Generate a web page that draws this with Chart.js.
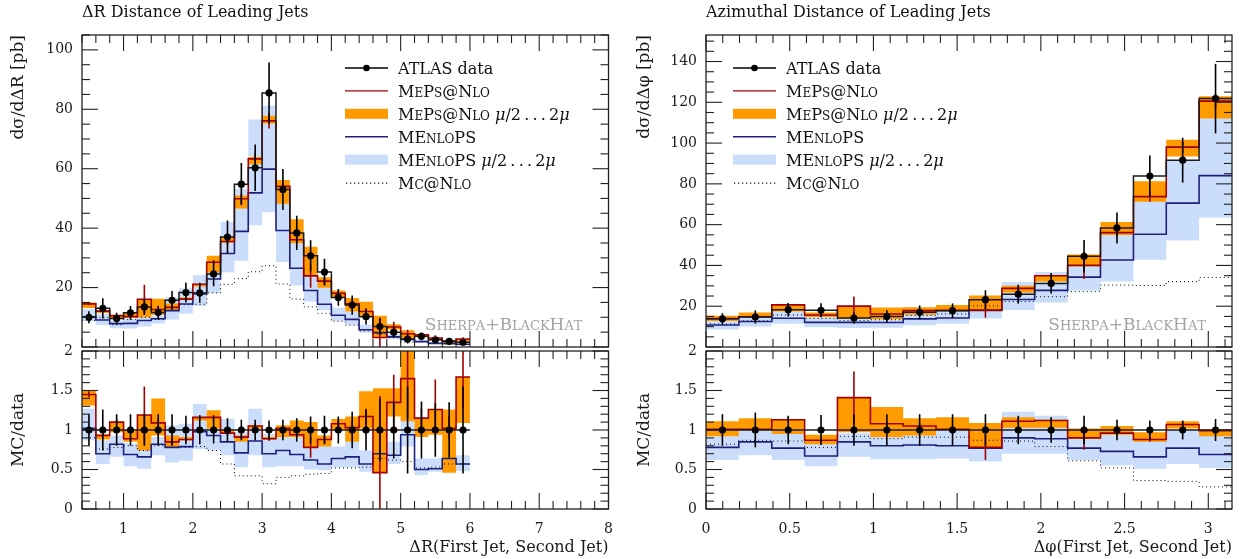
<!DOCTYPE html>
<html>
<head>
<meta charset="utf-8">
<script src="https://cdn.jsdelivr.net/npm/chart.js@4.4.1/dist/chart.umd.min.js"></script>
<style>
  body { margin: 0; background: #fff; width: 1244px; height: 559px; position: relative; overflow: hidden; }
  canvas { position: absolute; }
  #lmain { left: 0px; top: 0px; }
  #lratio { left: 0px; top: 343px; }
  #rmain { left: 622px; top: 0px; }
  #rratio { left: 622px; top: 343px; }
</style>
</head>
<body>
<canvas id="lmain" width="620" height="351"></canvas>
<canvas id="lratio" width="620" height="216"></canvas>
<canvas id="rmain" width="622" height="351"></canvas>
<canvas id="rratio" width="622" height="216"></canvas>
<script>
// ---- Delta R panel (bins of 0.2 from 0.4 to 6.0) ----
const edgesL = [0.4, 0.6, 0.8, 1.0, 1.2, 1.4, 1.6, 1.8, 2.0, 2.2, 2.4, 2.6, 2.8, 3.0, 3.2,
                3.4, 3.6, 3.8, 4.0, 4.2, 4.4, 4.6, 4.8, 5.0, 5.2, 5.4, 5.6, 5.8, 6.0];
const dataL = [10.0, 13.0, 9.6, 11.5, 13.5, 11.6, 15.7, 18.3, 18.2, 24.6, 37.0, 54.8, 60.3, 85.5,
               53.0, 38.4, 30.7, 25.2, 16.7, 14.1, 10.2, 6.9, 5.0, 2.7, 3.6, 2.4, 1.9, 1.6];
// relative data uncertainty (as seen in the ratio panel)
const dataErrL = [0.20, 0.26, 0.20, 0.20, 0.20, 0.20, 0.20, 0.18, 0.18, 0.17, 0.15, 0.13, 0.13, 0.12,
                  0.13, 0.15, 0.17, 0.18, 0.17, 0.23, 0.26, 0.40, 0.36, 0.55, 0.36, 0.34, 0.35, 0.55];
// MC / data ratios
const mepsL = [1.45, 0.93, 1.10, 0.89, 1.19, 1.09, 0.85, 0.88, 1.16, 1.16, 0.96, 0.91, 1.05, 0.89,
               1.02, 0.94, 0.78, 0.88, 1.08, 1.03, 1.17, 0.46, 1.35, 1.65, 1.15, 1.26, 1.02, 1.67];
const mepsErrL = [0.04, 0.03, 0.03, 0.03, 0.36, 0.05, 0.04, 0.03, 0.03, 0.03, 0.03, 0.03, 0.03, 0.03,
                  0.03, 0.03, 0.13, 0.05, 0.05, 0.08, 0.10, 0.97, 0.35, 0.50, 0.12, 0.38, 0.15, 0.40];
const mepsLoL = [1.31, 0.88, 0.97, 0.85, 0.74, 0.93, 0.78, 0.87, 1.12, 1.02, 0.95, 0.85, 1.02, 0.88,
                 0.91, 0.91, 0.78, 0.79, 1.01, 0.85, 1.02, 0.46, 1.17, 1.11, 0.91, 0.94, 0.46, 1.09];
const mepsHiL = [1.50, 0.95, 1.10, 1.00, 1.19, 1.40, 0.93, 0.91, 1.16, 1.25, 1.00, 0.93, 1.06, 0.91,
                 1.06, 1.12, 1.10, 0.93, 1.14, 1.17, 1.49, 1.53, 1.53, 2.10, 1.15, 1.26, 1.26, 1.67];
const menL = [1.02, 0.70, 0.82, 0.69, 0.66, 0.82, 0.78, 0.79, 0.98, 0.93, 0.85, 0.71, 0.86, 0.70,
              0.74, 0.69, 0.62, 0.57, 0.64, 0.66, 0.57, 0.70, 0.68, 0.94, 0.50, 0.51, 0.64, 0.57];
const menLoL = [0.87, 0.57, 0.66, 0.54, 0.51, 0.68, 0.59, 0.61, 0.76, 0.74, 0.68, 0.53, 0.68, 0.53,
                0.54, 0.54, 0.50, 0.49, 0.53, 0.53, 0.47, 0.57, 0.57, 0.79, 0.43, 0.47, 0.49, 0.48];
const menHiL = [1.27, 0.87, 0.93, 0.83, 0.78, 0.91, 1.06, 1.08, 1.33, 1.14, 1.14, 0.97, 1.27, 0.95,
                0.97, 0.93, 0.83, 0.87, 0.79, 0.85, 0.74, 0.85, 0.85, 1.14, 0.64, 0.64, 0.68, 0.68];
const mcnloL = [0.90, 0.76, 0.78, 0.80, 0.74, 0.80, 0.78, 0.78, 0.79, 0.74, 0.57, 0.42, 0.42, 0.32,
                0.40, 0.42, 0.44, 0.45, 0.52, 0.52, 0.53, 0.64, 0.62, 0.60, 0.52, 0.53, 0.57, 0.57];

// ---- Delta phi panel (16 bins from 0 to pi) ----
const edgesR = [0, 0.196, 0.393, 0.589, 0.785, 0.982, 1.178, 1.374, 1.571,
                1.767, 1.963, 2.160, 2.356, 2.553, 2.749, 2.945, 3.1416];
const dataR = [13.8, 14.7, 18.3, 18.0, 14.2, 15.0, 17.0, 17.8, 23.2, 25.9, 31.2, 44.5, 58.4, 83.8, 91.6, 121.8];
const dataErrR = [0.20, 0.22, 0.18, 0.19, 0.20, 0.20, 0.20, 0.20, 0.20, 0.18, 0.16, 0.18, 0.13, 0.12, 0.12, 0.14];
const mepsR = [1.01, 1.01, 1.13, 0.87, 1.41, 1.08, 1.05, 1.01, 0.78, 1.11, 1.12, 0.90, 0.96, 0.88, 1.07, 0.99];
const mepsErrR = [0.03, 0.03, 0.03, 0.03, 0.33, 0.03, 0.03, 0.03, 0.16, 0.04, 0.03, 0.15, 0.03, 0.03, 0.03, 0.03];
const mepsLoR = [0.92, 1.01, 0.95, 0.82, 0.97, 0.91, 0.93, 1.01, 0.78, 1.03, 1.03, 0.89, 0.94, 0.85, 1.02, 0.92];
const mepsHiR = [1.11, 1.15, 1.14, 0.94, 1.41, 1.29, 1.15, 1.16, 1.09, 1.16, 1.13, 1.02, 1.05, 0.97, 1.11, 1.01];
const menR = [0.78, 0.85, 0.77, 0.67, 0.85, 0.80, 0.81, 0.80, 0.77, 0.90, 0.89, 0.77, 0.73, 0.66, 0.77, 0.69];
const menLoR = [0.62, 0.68, 0.62, 0.54, 0.66, 0.63, 0.63, 0.64, 0.60, 0.70, 0.70, 0.62, 0.55, 0.51, 0.57, 0.52];
const menHiR = [0.92, 1.01, 0.95, 0.87, 0.96, 0.91, 1.00, 1.00, 0.91, 1.23, 1.18, 0.96, 0.94, 0.91, 1.00, 0.99];
const mcnloR = [0.82, 0.87, 0.86, 0.78, 0.92, 0.89, 0.91, 0.91, 0.87, 0.86, 0.79, 0.61, 0.52, 0.36, 0.35, 0.28];

const FONT = '"DejaVu Serif", serif';
const RED = '#a00000', ORANGE = '#ff9a00', BLUE = '#1f1f7c', LBLUE = '#cadefc', INK = '#1a1a1a';
Chart.defaults.font.family = FONT;
Chart.defaults.color = INK;

// histogram points: value of bin i from edge i to edge i+1
const steps = (edges, vals) => vals.map((v, i) => ({x: edges[i], y: v}))
  .concat([{x: edges[edges.length - 1], y: vals[vals.length - 1]}]);
const centers = edges => edges.slice(0, -1).map((e, i) => (e + edges[i + 1]) / 2);
// main panel curves = ratio x data (that is how the ratio panel is defined)
const times = (r, d) => r.map((v, i) => v * d[i]);

function datasets(edges, data, s, isMain) {
  const k = arr => isMain ? times(arr, data) : arr;
  const c = centers(edges);
  const ref = isMain ? data : data.map(v => v / v);
  const hist = (vals, color, w, order, extra) => Object.assign({
    data: steps(edges, vals), stepped: true, borderColor: color, borderWidth: w,
    pointRadius: 0, fill: false, order: order
  }, extra || {});
  return [
    hist(k(s.menLo), 'transparent', 0, 10),
    hist(k(s.menHi), 'transparent', 0, 10, {fill: '-1', backgroundColor: LBLUE}),
    hist(k(s.mepsLo), 'transparent', 0, 9),
    hist(k(s.mepsHi), 'transparent', 0, 9, {fill: '-1', backgroundColor: ORANGE}),
    hist(k(s.mcnlo), '#000', 1, 5, {borderDash: [1, 3]}),
    hist(k(s.men), BLUE, 1.6, 4),
    hist(k(s.meps), RED, 1.6, 3),
    {data: c.map((x, i) => ({x, y: k(s.meps)[i]})), showLine: false, pointRadius: 0, order: 3,
     errorBars: k(s.mepsErr), errColor: RED},
    hist(ref, INK, 1.5, 2),
    {data: c.map((x, i) => ({x, y: ref[i]})), showLine: false, pointRadius: 3.6,
     pointBackgroundColor: '#000', pointBorderWidth: 0, order: 1,
     errorBars: isMain ? times(s.dataErr, data) : s.dataErr, errColor: '#000'}
  ];
}

const errorBarPlugin = {
  id: 'errbars',
  afterDatasetsDraw(chart) {
    const {ctx, chartArea: a, scales: {x, y}} = chart;
    ctx.save();
    ctx.beginPath(); ctx.rect(a.left, a.top, a.right - a.left, a.bottom - a.top); ctx.clip();
    chart.data.datasets.forEach(ds => {
      if (!ds.errorBars) return;
      ctx.strokeStyle = ds.errColor; ctx.lineWidth = 1.6;
      ds.data.forEach((p, i) => {
        const e = ds.errorBars[i], px = x.getPixelForValue(p.x);
        ctx.beginPath();
        ctx.moveTo(px, y.getPixelForValue(p.y - e));
        ctx.lineTo(px, y.getPixelForValue(p.y + e));
        ctx.stroke();
      });
    });
    ctx.restore();
  }
};

const framePlugin = {
  id: 'frame',
  afterDraw(chart, args, o) {
    const {ctx, chartArea: a, scales: {x, y}} = chart;
    ctx.save();
    ctx.strokeStyle = '#222'; ctx.lineWidth = 1.3;
    ctx.strokeRect(a.left, a.top, a.right - a.left, a.bottom - a.top);
    ctx.lineWidth = 1.1;
    const seg = (x1, y1, x2, y2) => { ctx.beginPath(); ctx.moveTo(x1, y1); ctx.lineTo(x2, y2); ctx.stroke(); };
    const walk = (sc, minor, major, fn) => {
      for (let i = Math.ceil(sc.min / minor - 1e-6); i * minor <= sc.max + 1e-9; i++) {
        const v = i * minor, r = v / major;
        fn(sc.getPixelForValue(v), Math.abs(r - Math.round(r)) < 1e-6 ? 16 : 8);
      }
    };
    walk(x, o.xMin, o.xMaj, (p, L) => { seg(p, a.top, p, a.top + L); seg(p, a.bottom, p, a.bottom - L); });
    walk(y, o.yMin, o.yMaj, (p, L) => { seg(a.left, p, a.left + L, p); seg(a.right, p, a.right - L, p); });
    ctx.restore();
  }
};

// text with small capitals: lowercase letters of 'sc' parts are drawn as reduced capitals
function richText(ctx, parts, x, y, size, draw) {
  for (const [t, kind] of parts) {
    if (kind === 'sc') {
      for (const ch of t) {
        const small = ch !== ch.toUpperCase();
        const g = small ? ch.toUpperCase() : ch;
        ctx.font = `${small ? Math.round(size * 0.78) : size}px ${FONT}`;
        if (draw) ctx.fillText(g, x, y);
        x += ctx.measureText(g).width;
      }
    } else {
      ctx.font = `${kind === 'i' ? 'italic ' : ''}${size}px ${FONT}`;
      if (draw) ctx.fillText(t, x, y);
      x += ctx.measureText(t).width;
    }
  }
  return x;
}

const SCALE_TAIL = [[' ', ''], ['μ', 'i'], ['/2\u2009.\u2009.\u2009.\u20092', ''], ['μ', 'i']];
const legendItems = [
  {kind: 'data', parts: [['ATLAS data', '']]},
  {kind: 'line', color: RED, parts: [['MePs@Nlo', 'sc']]},
  {kind: 'box', color: ORANGE, parts: [['MePs@Nlo', 'sc']].concat(SCALE_TAIL)},
  {kind: 'line', color: BLUE, parts: [['MEnloPS', 'sc']]},
  {kind: 'box', color: LBLUE, parts: [['MEnloPS', 'sc']].concat(SCALE_TAIL)},
  {kind: 'dots', parts: [['Mc@Nlo', 'sc']]}
];

const notesPlugin = {
  id: 'notes',
  afterDraw(chart, args, o) {
    const {ctx, chartArea: a} = chart;
    ctx.save();
    ctx.textBaseline = 'alphabetic';
    legendItems.forEach((it, i) => {
      const yc = a.top + 33 + i * 22.9, x0 = a.left + o.lx, x1 = x0 + 43;
      ctx.strokeStyle = it.color || '#000';
      if (it.kind === 'box') {
        ctx.fillStyle = it.color; ctx.fillRect(x0, yc - 5, x1 - x0, 10);
      } else if (it.kind === 'dots') {
        ctx.fillStyle = '#000';
        for (let px = x0 + 1; px < x1; px += 4) ctx.fillRect(px, yc, 1.2, 1.2);
      } else {
        ctx.lineWidth = it.kind === 'data' ? 1.6 : 1.4;
        ctx.beginPath(); ctx.moveTo(x0, yc); ctx.lineTo(x1, yc); ctx.stroke();
        if (it.kind === 'data') {
          ctx.fillStyle = '#000';
          ctx.beginPath(); ctx.arc((x0 + x1) / 2, yc, 3.3, 0, 2 * Math.PI); ctx.fill();
        }
      }
      ctx.fillStyle = '#111';
      richText(ctx, it.parts, x1 + 10, yc + 6, 16, true);
    });
    const tag = [['Sherpa', 'sc'], ['+', ''], ['BlackHat', 'sc']];
    ctx.fillStyle = '#a3a3a3';
    const w = richText(ctx, tag, 0, 0, 17, false);
    richText(ctx, tag, a.right - 26 - w, a.top + 295, 17, true);
    ctx.restore();
  }
};

const noPad = s => { s.paddingTop = 0; s.paddingBottom = 0; s.paddingLeft = 0; s.paddingRight = 0; };
const fixedTicks = vals => s => { s.ticks = vals.map(v => ({value: v})); };

function makeMain(id, cfg) {
  return new Chart(document.getElementById(id), {
    type: 'line',
    data: {datasets: datasets(cfg.edges, cfg.data, cfg.s, true)},
    options: {
      responsive: false, animation: false, events: [],
      layout: {padding: {left: 0, right: cfg.padRight, top: 0, bottom: 0}},
      plugins: {
        legend: {display: false}, tooltip: {enabled: false},
        title: {display: true, text: cfg.title, align: 'start', fullSize: false, color: '#111',
                font: {size: 16, weight: 'normal'}, padding: {top: 3, bottom: 12.8}},
        frame: {xMaj: cfg.xMaj, xMin: cfg.xMin, yMaj: 20, yMin: 5},
        notes: {lx: cfg.lx}
      },
      scales: {
        x: {type: 'linear', min: cfg.xmin, max: cfg.xmax, display: false},
        y: {type: 'linear', min: 0, max: cfg.ymax,
            grid: {display: false, drawTicks: false}, border: {display: false},
            ticks: {padding: 9, font: {size: 14}, callback: v => String(v)},
            afterBuildTicks: fixedTicks(cfg.yticks),
            afterFit: s => { s.width = cfg.axisW; noPad(s); },
            title: {display: true, text: cfg.ytitle, align: 'end', font: {size: 17},
                    padding: {top: cfg.titlePad, bottom: 0}}}
      }
    },
    plugins: [errorBarPlugin, framePlugin, notesPlugin]
  });
}

function makeRatio(id, cfg) {
  return new Chart(document.getElementById(id), {
    type: 'line',
    data: {datasets: datasets(cfg.edges, cfg.data, cfg.s, false)},
    options: {
      responsive: false, animation: false, events: [],
      layout: {padding: {left: 0, right: cfg.padRight, top: 8, bottom: 0}},
      plugins: {
        legend: {display: false}, tooltip: {enabled: false},
        frame: {xMaj: cfg.xMaj, xMin: cfg.xMin, yMaj: 0.5, yMin: 0.1}
      },
      scales: {
        x: {type: 'linear', min: cfg.xmin, max: cfg.xmax,
            grid: {display: false, drawTicks: false}, border: {display: false},
            ticks: {padding: 12, font: {size: 14}, maxRotation: 0, callback: v => String(v)},
            afterBuildTicks: fixedTicks(cfg.xticks),
            afterFit: s => { s.height = 50; noPad(s); },
            title: {display: true, text: cfg.xtitle, align: 'end', font: {size: 16},
                    padding: {top: 0, bottom: 2}}},
        y: {type: 'linear', min: 0, max: 2,
            grid: {display: false, drawTicks: false}, border: {display: false},
            ticks: {padding: 9, font: {size: 14}, callback: v => String(v)},
            afterBuildTicks: fixedTicks([0, 0.5, 1, 1.5, 2]),
            afterFit: s => { s.width = cfg.axisW; noPad(s); },
            title: {display: true, text: 'MC/data', align: 'center', font: {size: 17},
                    padding: {top: cfg.titlePad, bottom: 0}}}
      }
    },
    plugins: [errorBarPlugin, framePlugin]
  });
}

const seriesL = {meps: mepsL, mepsErr: mepsErrL, mepsLo: mepsLoL, mepsHi: mepsHiL,
                 men: menL, menLo: menLoL, menHi: menHiL, mcnlo: mcnloL, dataErr: dataErrL};
const seriesR = {meps: mepsR, mepsErr: mepsErrR, mepsLo: mepsLoR, mepsHi: mepsHiR,
                 men: menR, menLo: menLoR, menHi: menHiR, mcnlo: mcnloR, dataErr: dataErrR};

const left = {edges: edgesL, data: dataL, s: seriesL, xmin: 0.4, xmax: 8, xMaj: 1, xMin: 0.2,
              axisW: 82, padRight: 11.5, titlePad: 8, lx: 263};
const right = {edges: edgesR, data: dataR, s: seriesR, xmin: 0, xmax: 3.1416, xMaj: 0.5, xMin: 0.1,
               axisW: 84, padRight: 12, titlePad: 12, lx: 27};

makeMain('lmain', Object.assign({}, left, {title: 'ΔR Distance of Leading Jets', ymax: 105,
  yticks: [20, 40, 60, 80, 100], ytitle: 'dσ/dΔR [pb]'}));
makeRatio('lratio', Object.assign({}, left, {xticks: [1, 2, 3, 4, 5, 6, 7, 8],
  xtitle: 'ΔR(First Jet, Second Jet)'}));
makeMain('rmain', Object.assign({}, right, {title: 'Azimuthal Distance of Leading Jets', ymax: 153,
  yticks: [20, 40, 60, 80, 100, 120, 140], ytitle: 'dσ/dΔφ [pb]'}));
makeRatio('rratio', Object.assign({}, right, {xticks: [0, 0.5, 1, 1.5, 2, 2.5, 3],
  xtitle: 'Δφ(First Jet, Second Jet)'}));
</script>
</body>
</html>
